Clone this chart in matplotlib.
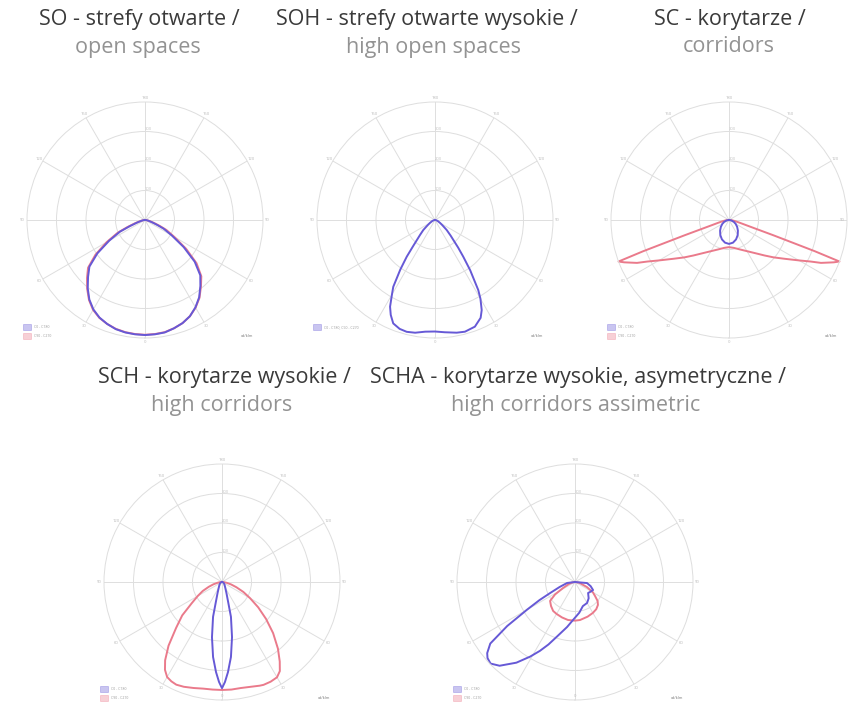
import numpy as np
import matplotlib

matplotlib.use("Agg")
import matplotlib.pyplot as plt
from matplotlib.patches import Rectangle

W, H = 849, 703

# gamma angle from nadir in degrees, positive = left half of the diagram
# radial values in grid-ring units (outer ring = 4)
SO_ANGLES = [-90, -84, -78, -72, -68, -65, -60, -55, -50, -45, -40, -35, -30, -25, -20, -15, -10, -5,
             0, 5, 10, 15, 20, 25, 30, 35, 40, 45, 50, 55, 60, 65, 68, 72, 78, 84, 90]
SO_C0 = [0, 0.05, 0.12, 0.25, 0.45, 0.70, 1.05, 1.60, 2.20, 2.65, 2.92, 3.20, 3.42, 3.60, 3.72, 3.80, 3.87, 3.89,
         3.90, 3.89, 3.87, 3.83, 3.75, 3.65, 3.50, 3.29, 3.02, 2.73, 2.46, 1.97, 1.40, 0.94, 0.55, 0.28, 0.12, 0.05, 0]
SO_C90 = [0, 0.06, 0.15, 0.32, 0.55, 0.80, 1.15, 1.70, 2.28, 2.70, 2.95, 3.22, 3.43, 3.60, 3.72, 3.80, 3.86, 3.88,
          3.89, 3.88, 3.86, 3.82, 3.75, 3.66, 3.52, 3.31, 3.05, 2.78, 2.52, 2.05, 1.50, 1.02, 0.65, 0.35, 0.15, 0.06, 0]

SOH_ANGLES = [-90, -80, -70, -60, -55, -49.5, -45, -40, -37.6, -35, -31.7, -30, -27.4, -25, -20.5, -15, -10.9, -5,
              0, 5, 10, 14.2, 18, 22, 25, 27.4, 30, 32, 35, 37.6, 40, 45, 49.5, 55, 60, 70, 80, 90]
SOH_C0 = [0, 0.04, 0.10, 0.20, 0.30, 0.52, 0.75, 1.22, 1.57, 2.08, 2.79, 3.08, 3.44, 3.66, 3.86, 3.92, 3.89, 3.82,
          3.78, 3.80, 3.88, 3.91, 3.88, 3.78, 3.55, 3.31, 2.92, 2.67, 2.05, 1.57, 1.15, 0.72, 0.52, 0.30, 0.20, 0.10, 0.04, 0]

SC_ANGLES_C0 = [-90, -80, -70, -60, -50, -40, -30, -20, -10, 0, 10, 20, 30, 40, 50, 60, 70, 80, 90]
SC_C0 = [0, 0.08, 0.17, 0.26, 0.36, 0.47, 0.59, 0.70, 0.78, 0.81, 0.78, 0.70, 0.59, 0.47, 0.36, 0.26, 0.17, 0.08, 0]
SC_ANGLES_C90 = [-90, -85, -80, -76, -73, -71, -70, -69.4, -68, -67, -65, -63, -60, -55, -50, -45, -40, -30, -20, -10,
                 0, 10, 20, 30, 40, 45, 50, 55, 60, 63, 65, 67, 68, 69.4, 70, 71, 73, 76, 80, 85, 90]
SC_C90 = [0, 0.10, 0.20, 0.35, 0.65, 1.60, 3.10, 4.00, 3.83, 3.69, 3.44, 3.10, 2.74, 2.29, 1.97, 1.70, 1.49, 1.22, 1.06, 0.96,
          0.92, 0.96, 1.06, 1.22, 1.49, 1.70, 1.97, 2.29, 2.74, 3.10, 3.44, 3.69, 3.83, 4.00, 3.10, 1.60, 0.65, 0.35, 0.20, 0.10, 0]

SCH_ANGLES_C0 = [-90, -75, -60, -45, -30, -22, -17, -14.4, -10.3, -6.8, -3.8, -1.7,
                 0, 1.7, 3.8, 6.8, 10.3, 14.4, 17, 22, 30, 45, 60, 75, 90]
SCH_C0 = [0, 0.03, 0.07, 0.12, 0.22, 0.40, 0.72, 1.22, 1.90, 2.56, 3.06, 3.39,
          3.60, 3.39, 3.06, 2.56, 1.90, 1.22, 0.72, 0.40, 0.22, 0.12, 0.07, 0.03, 0]
SCH_ANGLES_C90 = [-90, -85, -80, -75, -70, -65, -60, -55, -50, -45, -40, -36, -33, -30, -26, -22, -20, -15, -10, -5,
                  0, 5, 10, 15, 20, 24, 27, 30, 33, 36, 40, 45, 50, 55, 60, 65, 70, 75, 80, 85, 90]
SCH_C90 = [0, 0.07, 0.17, 0.32, 0.52, 0.80, 1.10, 1.50, 1.95, 2.45, 2.95, 3.33, 3.60, 3.73, 3.76, 3.76, 3.74, 3.68, 3.65, 3.66,
           3.66, 3.66, 3.67, 3.72, 3.78, 3.81, 3.78, 3.72, 3.55, 3.28, 2.82, 2.20, 1.76, 1.25, 0.95, 0.72, 0.48, 0.30, 0.16, 0.07, 0]

SCHA_ANGLES_C0 = [-90, -85, -75, -66, -58, -50, -40, -30, -18, -8, 3, 10, 18, 23, 27, 31, 36, 42, 46, 49, 51,
                  54, 57, 60, 63, 66, 72, 83, 90]
SCHA_C0 = [0, 0.41, 0.55, 0.67, 0.62, 0.58, 0.72, 0.82, 0.86, 1.05, 1.29, 1.55, 1.93, 2.30, 2.62, 2.95, 3.38, 3.82, 3.98, 3.93, 3.83,
           3.55, 2.74, 1.88, 1.35, 0.93, 0.55, 0.27, 0]
SCHA_ANGLES_C90 = [-90, -80, -67, -60, -55, -50, -45, -38, -30, -20, -7.5, 0, 10.4, 20, 30, 37, 45, 52.8, 58, 63.4, 72, 80, 90]
SCHA_C90 = [0, 0.15, 0.44, 0.70, 0.83, 1.00, 1.10, 1.17, 1.21, 1.25, 1.30, 1.31, 1.31, 1.28, 1.25, 1.23, 1.15, 1.06, 0.80, 0.45,
            0.22, 0.10, 0]

GRID_ANGLES = list(range(0, 360, 30))
ANGLE_LABELS = ["0", "30", "60", "90", "120", "150", "180", "150", "120", "90", "60", "30"]
RING_LABELS = ["100", "200", "300"]

TITLES = [
    ("SO - strefy otwarte /", "open spaces", 139, 138),
    ("SOH - strefy otwarte wysokie /", "high open spaces", 427, 434),
    ("SC - korytarze /", "corridors", 730, 729),
    ("SCH - korytarze wysokie /", "high corridors", 224, 222),
    ("SCHA - korytarze wysokie, asymetryczne /", "high corridors assimetric", 578, 576),
]

BLUE = "#6659d6"
RED = "#ea7a8b"
GRID = "#dedede"
R_PX = 118

plt.rcParams["font.family"] = ["Open Sans", "DejaVu Sans"]


def add_panel(fig, cx, cy, curves, legend, tucked=()):
    ax = fig.add_axes([(cx - R_PX) / W, 1 - (cy + R_PX) / H, 2 * R_PX / W, 2 * R_PX / H],
                      projection="polar")
    ax.set_theta_zero_location("S")
    ax.set_theta_direction(-1)
    ax.set_ylim(0, 4)
    ax.set_thetagrids(GRID_ANGLES, labels=[""] * len(GRID_ANGLES))
    ax.set_rgrids([1, 2, 3], labels=RING_LABELS, fontsize=3, color="#c4c4c4")
    ax.set_rlabel_position(180)
    ax.grid(color=GRID, linewidth=0.7)
    ax.spines["polar"].set_color(GRID)
    ax.spines["polar"].set_linewidth(0.7)

    # small angle labels at the ends of the spokes; the ones at the image border sit inside the ring
    for angle, label in zip(GRID_ANGLES, ANGLE_LABELS):
        radius = 3.85 if angle in tucked else 4.15
        ax.text(np.deg2rad(angle), radius, label, fontsize=3, color="#b8b8b8",
                ha="center", va="center", clip_on=False)

    for angles, values, color in curves:
        ax.plot(np.deg2rad(angles), values, color=color, linewidth=1.4, clip_on=False)

    for i, (color, text) in enumerate(legend):
        y = 0.035 - i * 0.038
        ax.add_patch(Rectangle((-0.015, y), 0.03, 0.026, transform=ax.transAxes, clip_on=False,
                               facecolor=color, alpha=0.35, edgecolor=color, linewidth=0.6))
        ax.text(0.03, y + 0.013, text, transform=ax.transAxes, fontsize=2.5, color="#999999",
                va="center", ha="left")
    ax.text(0.96, 0.01, "cd/klm", transform=ax.transAxes, fontsize=2.8, color="#777777",
            va="center", ha="right")
    return ax


def main():
    fig = plt.figure(figsize=(W / 100, H / 100), dpi=100)

    add_panel(fig, 145, 220, [(SO_ANGLES, SO_C90, RED), (SO_ANGLES, SO_C0, BLUE)],
              [(BLUE, "C0 - C180"), (RED, "C90 - C270")])
    add_panel(fig, 435, 220, [(SOH_ANGLES, SOH_C0, BLUE)],
              [(BLUE, "C0 - C180, C90 - C270")])
    add_panel(fig, 729, 220, [(SC_ANGLES_C90, SC_C90, RED), (SC_ANGLES_C0, SC_C0, BLUE)],
              [(BLUE, "C0 - C180"), (RED, "C90 - C270")], tucked=(270,))
    add_panel(fig, 222, 582, [(SCH_ANGLES_C90, SCH_C90, RED), (SCH_ANGLES_C0, SCH_C0, BLUE)],
              [(BLUE, "C0 - C180"), (RED, "C90 - C270")], tucked=(0,))
    add_panel(fig, 575, 582, [(SCHA_ANGLES_C90, SCHA_C90, RED), (SCHA_ANGLES_C0, SCHA_C0, BLUE)],
              [(BLUE, "C0 - C180"), (RED, "C90 - C270")], tucked=(0,))

    for i, (line1, line2, x1, x2) in enumerate(TITLES):
        y1, y2 = (20, 47) if i < 3 else (378, 405)
        fig.text(x1 / W, 1 - y1 / H, line1, ha="center", va="center", fontsize=15.5, color="#3a3a3a")
        fig.text(x2 / W, 1 - y2 / H, line2, ha="center", va="center", fontsize=15.5, color="#939393")

    fig.savefig("out.png", dpi=100)


if __name__ == "__main__":
    main()
